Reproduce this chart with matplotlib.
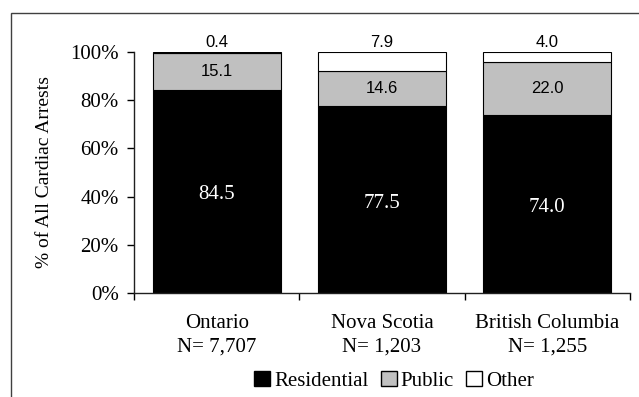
import matplotlib.pyplot as plt
import numpy as np
from matplotlib.patches import Rectangle, Patch

provinces = ["Ontario\nN= 7,707", "Nova Scotia\nN= 1,203", "British Columbia\nN= 1,255"]
residential = [84.5, 77.5, 74.0]
public = [15.1, 14.6, 22.0]
other = [0.4, 7.9, 4.0]

SERIF = "Liberation Serif"
SANS = "Liberation Sans"

fig = plt.figure(figsize=(6.39, 3.97), dpi=100)
ax = fig.add_axes([0.2097, 0.2627, 0.7762, 0.6056])

x = np.arange(len(provinces)) + 0.5
w = 0.775
res = np.array(residential)
pub = np.array(public)
oth = np.array(other)

ax.bar(x, res, w, color="black", edgecolor="black", linewidth=0.8)
ax.bar(x, pub, w, bottom=res, color="#c0c0c0", edgecolor="black", linewidth=0.8)
ax.bar(x, oth, w, bottom=res + pub, color="white", edgecolor="black", linewidth=0.8)

for xi, r, p, o in zip(x, res, pub, oth):
    ax.text(xi, r / 2 - 1.5, f"{r:.1f}", ha="center", va="center", color="white",
            fontsize=15, family=SERIF)
    ax.text(xi, r + p / 2, f"{p:.1f}", ha="center", va="center", color="black",
            fontsize=12, family=SANS)
    ax.text(xi, r + p + o + 0.8, f"{o:.1f}", ha="center", va="bottom", color="black",
            fontsize=12, family=SANS)

ax.set_xlim(0, 3)
ax.set_ylim(0, 100)
ax.set_yticks(np.arange(0, 101, 20))
ax.set_yticklabels([f"{v}%" for v in range(0, 101, 20)], family=SERIF, fontsize=15)
ax.tick_params(axis="y", length=5, width=1, pad=6, direction="out")

ax.set_xticks([0, 1, 2, 3])
ax.set_xticklabels([])
ax.tick_params(axis="x", which="major", length=5, width=1, direction="out")
ax.set_xticks(x, minor=True)
ax.set_xticklabels(provinces, minor=True, family=SERIF, fontsize=15, linespacing=1.35)
ax.tick_params(axis="x", which="minor", length=0, pad=15)

for s in ["top", "right"]:
    ax.spines[s].set_visible(False)
for s in ["left", "bottom"]:
    ax.spines[s].set_linewidth(1)
    ax.spines[s].set_color("#202020")

ax.set_ylabel("% of All Cardiac Arrests", family=SERIF, fontsize=14, labelpad=12)

handles = [Patch(facecolor="black", edgecolor="black"),
           Patch(facecolor="#c0c0c0", edgecolor="black"),
           Patch(facecolor="white", edgecolor="black")]
fig.legend(handles, ["Residential", "Public", "Other"], loc="center",
           bbox_to_anchor=(0.617, 0.04), ncol=3, frameon=False,
           prop={"family": SERIF, "size": 15}, handlelength=0.75, handleheight=0.75,
           handletextpad=0.2, columnspacing=0.6, borderaxespad=0)

# outer frame of the figure panel
fig.add_artist(Rectangle((11 / 639, -0.1), 2, (397 - 13) / 397 + 0.1,
                         transform=fig.transFigure, fill=False,
                         edgecolor="#404040", linewidth=1))

fig.savefig("out.png", dpi=100)
